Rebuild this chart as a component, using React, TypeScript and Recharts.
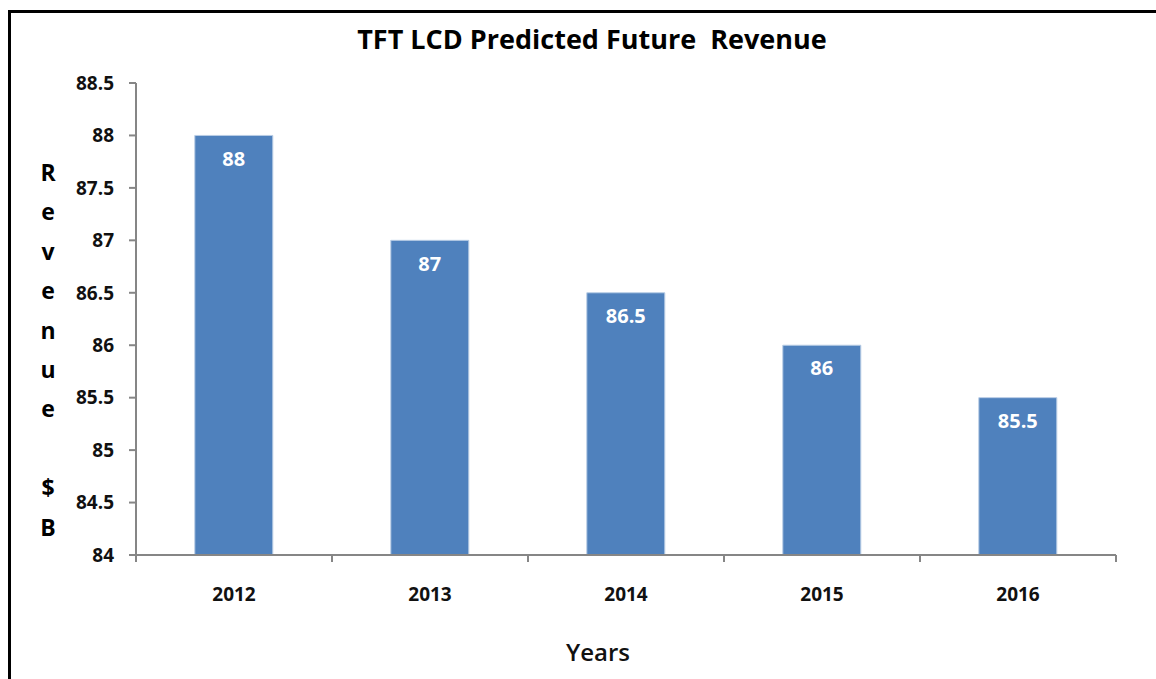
import React from 'react';
import { BarChart, Bar, XAxis, YAxis, LabelList, Customized } from 'recharts';

const years = ['2012', '2013', '2014', '2015', '2016'];
const revenue = [88, 87, 86.5, 86, 85.5];
const yTicks = [84, 84.5, 85, 85.5, 86, 86.5, 87, 87.5, 88, 88.5];
const titleText = 'TFT LCD Predicted Future  Revenue';
const yLabel = 'Revenue $B';
const xLabel = 'Years';

const data = years.map((y, i) => ({ year: y, value: revenue[i] }));

const FONT = '"Open Sans", "DejaVu Sans", sans-serif';
const AXIS = '#868686';

const XTick = (props: any) => {
  const { x, y, payload, index, visibleTicksCount } = props;
  const off = payload.offset || 0;
  const isLast = index === visibleTicksCount - 1;
  return (
    <g>
      <line x1={x - off} x2={x - off} y1={y} y2={y + 7} stroke={AXIS} strokeWidth={2} />
      {isLast && <line x1={x + off} x2={x + off} y1={y} y2={y + 7} stroke={AXIS} strokeWidth={2} />}
      <text x={x} y={y + 39} textAnchor="middle" dominantBaseline="central" fontFamily={FONT} fontWeight={700} fontSize={19} fill="#111">
        {payload.value}
      </text>
    </g>
  );
};

const YLabel = (props: any) => {
  const vb = props.viewBox || {};
  const cx = vb.x - 28;
  const chars = yLabel.split('');
  return (
    <g>
      {chars.map((c, i) => (
        <text key={i} x={cx} y={172 + i * 39.4} textAnchor="middle" dominantBaseline="central" fontFamily={FONT} fontWeight={700} fontSize={23} fill="#000">
          {c}
        </text>
      ))}
    </g>
  );
};

export default function App() {
  return (
    <div style={{ position: 'fixed', left: 0, top: 0, width: 1156, height: 679, overflow: 'hidden', background: '#fff' }}>
      <style>{'html,body{margin:0;padding:0;overflow:hidden;}'}</style>
      <div style={{ position: 'absolute', left: 8, top: 10, width: 1160, height: 680, borderTop: '3px solid #000', borderLeft: '3px solid #000', boxSizing: 'border-box' }} />
      <div style={{ position: 'absolute', left: 0, top: 0 }}>
        <BarChart width={1156} height={679} data={data} margin={{ top: 83, right: 40, bottom: 94, left: 76 }} barCategoryGap="30%">
          <XAxis dataKey="year" height={30} tick={<XTick />} tickLine={false} tickSize={0} tickMargin={0} axisLine={{ stroke: AXIS, strokeWidth: 2 }} interval={0} />
          <YAxis
            width={60}
            domain={[84, 88.5]}
            ticks={yTicks}
            interval={0}
            allowDataOverflow
            tickSize={7}
            tickMargin={15}
            tickLine={{ stroke: AXIS, strokeWidth: 2 }}
            axisLine={{ stroke: AXIS, strokeWidth: 2 }}
            tick={{ fontFamily: FONT, fontWeight: 700, fontSize: 19, fill: '#111' }}
            label={<YLabel />}
          />
          <Bar dataKey="value" fill="#4F81BD" stroke="#B9CDE5" strokeWidth={1} isAnimationActive={false}>
            <LabelList dataKey="value" position="insideTop" offset={16} fill="#fff" fontFamily={FONT} fontWeight={700} fontSize={20} />
          </Bar>
          <Customized
            component={() => (
              <g>
                <text x={592} y={38} textAnchor="middle" dominantBaseline="central" fontFamily={FONT} fontWeight={700} fontSize={27} fill="#000" style={{ whiteSpace: 'pre' }}>
                  {titleText}
                </text>
                <text x={598} y={651} textAnchor="middle" dominantBaseline="central" fontFamily={FONT} fontWeight={600} fontSize={24} fill="#111">
                  {xLabel}
                </text>
              </g>
            )}
          />
        </BarChart>
      </div>
    </div>
  );
}
